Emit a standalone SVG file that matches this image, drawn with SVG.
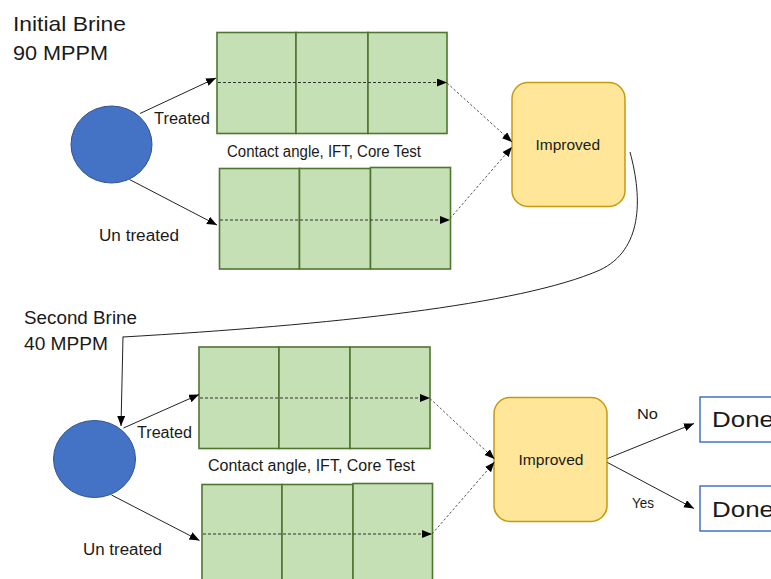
<svg xmlns="http://www.w3.org/2000/svg" width="771" height="579" viewBox="0 0 771 579">
<style>
text{font-family:"Liberation Sans",Arial,sans-serif;fill:#1a1a1a}
.cell{fill:#C5E0B4;stroke:#4F7630;stroke-width:1.6}
.brine{fill:#4472C4;stroke:#2F528F;stroke-width:1}
.imp{fill:#FFE699;stroke:#C59A10;stroke-width:1.5}
.done{fill:#fff;stroke:#4472C4;stroke-width:1.5}
.c{fill:none;stroke:#222;stroke-width:1}
.d{fill:none;stroke:#333;stroke-width:1;stroke-dasharray:3 2}
.dg{fill:none;stroke:#555;stroke-width:1;stroke-dasharray:2.5 2}
.big{font-size:21px}
.mid{font-size:16px}
.sm{font-size:14px}
</style>
<defs>
<marker id="ah" markerUnits="userSpaceOnUse" markerWidth="11" markerHeight="9" refX="10" refY="4" orient="auto" viewBox="0 0 11 9">
<path d="M0,0 L10,4 L0,8 z" fill="#000"/>
</marker>
</defs>

<g id="labels">
<text class="big" x="13" y="31" textLength="113" lengthAdjust="spacingAndGlyphs">Initial Brine</text>
<text class="big" x="13" y="60" textLength="95" lengthAdjust="spacingAndGlyphs">90 MPPM</text>
<text class="mid" x="154" y="124" textLength="56" lengthAdjust="spacingAndGlyphs">Treated</text>
<text class="mid" x="99" y="241" textLength="80" lengthAdjust="spacingAndGlyphs">Un treated</text>
<text class="mid" x="227" y="157" textLength="194" lengthAdjust="spacingAndGlyphs">Contact angle, IFT, Core Test</text>
<text class="mid" x="24" y="324" textLength="113" lengthAdjust="spacingAndGlyphs" style="font-size:18px">Second Brine</text>
<text class="mid" x="24" y="350" textLength="84" lengthAdjust="spacingAndGlyphs" style="font-size:18px">40 MPPM</text>
<text class="mid" x="137" y="438" textLength="55" lengthAdjust="spacingAndGlyphs">Treated</text>
<text class="mid" x="83" y="555" textLength="79" lengthAdjust="spacingAndGlyphs">Un treated</text>
<text class="mid" x="208" y="471" textLength="207" lengthAdjust="spacingAndGlyphs">Contact angle, IFT, Core Test</text>
<text class="sm" x="637" y="419" textLength="21" lengthAdjust="spacingAndGlyphs">No</text>
<text class="sm" x="632" y="508" textLength="22" lengthAdjust="spacingAndGlyphs">Yes</text>
</g>

<g id="brine1"><ellipse class="brine" cx="111.5" cy="144.5" rx="40.5" ry="38.5"/></g>
<g id="brine2"><ellipse class="brine" cx="94.5" cy="459" rx="41" ry="38.5"/></g>

<g id="grid1">
<rect class="cell" x="217" y="32.5" width="79" height="101"/>
<rect class="cell" x="296" y="32.5" width="72" height="101"/>
<rect class="cell" x="368" y="32.5" width="79" height="101"/>
</g>
<g id="grid2">
<rect class="cell" x="219.5" y="168.5" width="80" height="100.5"/>
<rect class="cell" x="299.5" y="168.5" width="71" height="100.5"/>
<rect class="cell" x="370.5" y="167.5" width="80" height="101.5"/>
</g>
<g id="grid3">
<rect class="cell" x="199" y="347" width="80" height="101.5"/>
<rect class="cell" x="279" y="347" width="71" height="101.5"/>
<rect class="cell" x="350" y="347" width="80" height="101.5"/>
</g>
<g id="grid4">
<rect class="cell" x="202" y="484.5" width="80" height="100"/>
<rect class="cell" x="282" y="484.5" width="71" height="100"/>
<rect class="cell" x="353" y="483.5" width="79.5" height="101"/>
</g>

<g id="improved1">
<rect class="imp" x="512" y="82.5" width="113" height="124" rx="16"/>
<text class="sm" x="535.5" y="150" textLength="64.5" lengthAdjust="spacingAndGlyphs">Improved</text>
</g>
<g id="improved2">
<rect class="imp" x="494" y="397.5" width="113" height="124" rx="16"/>
<text class="sm" x="518.5" y="465" textLength="65" lengthAdjust="spacingAndGlyphs">Improved</text>
</g>

<g id="done1">
<rect class="done" x="700" y="397" width="80" height="45"/>
<text x="712" y="427" style="font-size:22px" textLength="62" lengthAdjust="spacingAndGlyphs">Done</text>
</g>
<g id="done2">
<rect class="done" x="700" y="486" width="80" height="45"/>
<text x="712" y="517" style="font-size:22px" textLength="62" lengthAdjust="spacingAndGlyphs">Done</text>
</g>

<g id="connectors">
<line class="c" x1="140" y1="113.5" x2="216" y2="78" marker-end="url(#ah)"/>
<line class="c" x1="129.5" y1="179.5" x2="217" y2="225" marker-end="url(#ah)"/>
<line class="d" x1="218" y1="82.5" x2="447" y2="82.5" marker-end="url(#ah)"/>
<line class="d" x1="220" y1="220" x2="450" y2="220" marker-end="url(#ah)"/>
<line class="dg" x1="447" y1="83" x2="512" y2="142" marker-end="url(#ah)"/>
<line class="dg" x1="450" y1="218.5" x2="512" y2="147" marker-end="url(#ah)"/>
<path class="c" d="M630,152 C643,200 642,250 600,270 C520,305 330,325 123,337" stroke-width="1.4"/>
<polyline class="c" points="123,336.5 121,426" marker-end="url(#ah)"/>
<line class="c" x1="123.5" y1="428" x2="199" y2="394.5" marker-end="url(#ah)"/>
<line class="c" x1="111.5" y1="495" x2="199.5" y2="540.5" marker-end="url(#ah)"/>
<line class="d" x1="200" y1="398" x2="430" y2="398" marker-end="url(#ah)"/>
<line class="d" x1="203" y1="534" x2="432" y2="534" marker-end="url(#ah)"/>
<line class="dg" x1="430" y1="398.5" x2="494.5" y2="459" marker-end="url(#ah)"/>
<line class="dg" x1="432" y1="534" x2="494.5" y2="462" marker-end="url(#ah)"/>
<line class="c" x1="607.5" y1="458.5" x2="694" y2="423.5" marker-end="url(#ah)"/>
<line class="c" x1="607.5" y1="462.5" x2="694" y2="508.5" marker-end="url(#ah)"/>
</g>
</svg>
